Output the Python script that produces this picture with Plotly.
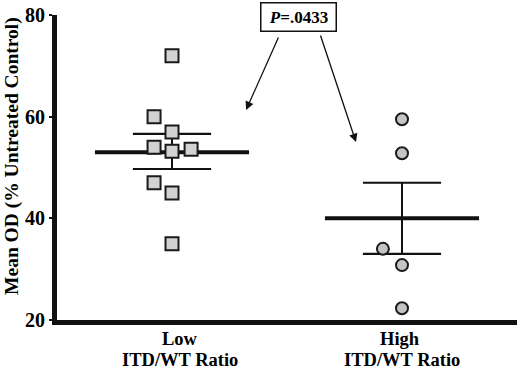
import plotly.graph_objects as go

# ---- data ----
cat_line1 = ["Low", "High"]
cat_line2 = ["ITD/WT Ratio", "ITD/WT Ratio"]
cat_pos = [1, 2]

low_x = [1, 0.922, 1, 0.922, 1, 1.083, 0.922, 1, 1]
low_y = [72, 60, 57, 54, 53.2, 53.6, 47, 45, 35]

high_x = [2, 2, 1.917, 2, 2]
high_y = [59.5, 52.8, 34.0, 30.8, 22.3]

group_mean = [53.0, 40.0]
group_upper = [56.6, 47.0]
group_lower = [49.7, 33.0]

p_label = "<i>P</i>=.0433"
y_title = "Mean OD (% Untreated Control)"
y_ticks = [20, 40, 60, 80]

# ---- style constants ----
MEAN_HALF = 0.335
CAP_HALF = 0.17
SERIF = "Liberation Serif, Times New Roman, serif"
LABEL_XSHIFT = [8, -2]

fig = go.Figure()

for i, c in enumerate(cat_pos):
    fig.add_trace(go.Scatter(x=[c, c], y=[group_lower[i], group_upper[i]], mode="lines",
                             line=dict(color="#111", width=2), hoverinfo="skip", showlegend=False))
    for v in (group_upper[i], group_lower[i]):
        fig.add_trace(go.Scatter(x=[c - CAP_HALF, c + CAP_HALF], y=[v, v], mode="lines",
                                 line=dict(color="#111", width=2.2), hoverinfo="skip", showlegend=False))
    fig.add_trace(go.Scatter(x=[c - MEAN_HALF, c + MEAN_HALF], y=[group_mean[i], group_mean[i]], mode="lines",
                             line=dict(color="#111", width=4), hoverinfo="skip", showlegend=False))

fig.add_trace(go.Scatter(x=low_x, y=low_y, mode="markers", showlegend=False,
                         marker=dict(symbol="square", size=13, color="#d2d2d2",
                                     line=dict(color="#1a1a1a", width=2))))
fig.add_trace(go.Scatter(x=high_x, y=high_y, mode="markers", showlegend=False,
                         marker=dict(symbol="circle", size=12, color="#c4c4c4",
                                     line=dict(color="#1a1a1a", width=2))))

# category labels (two lines each)
for i, c in enumerate(cat_pos):
    fig.add_annotation(x=c, y=0, xref="x", yref="paper", yanchor="top", yshift=-8,
                       xshift=LABEL_XSHIFT[i], text=cat_line1[i], showarrow=False, borderpad=0,
                       font=dict(family=SERIF, size=18.5, color="black", weight="bold"))
    fig.add_annotation(x=c, y=0, xref="x", yref="paper", yanchor="top", yshift=-29,
                       xshift=LABEL_XSHIFT[i] if i == 0 else 0, text=cat_line2[i], showarrow=False,
                       borderpad=0,
                       font=dict(family=SERIF, size=18.5, color="black", weight="bold"))

# y-axis title
fig.add_annotation(x=0, y=0.538, xref="paper", yref="paper", xanchor="center", yanchor="middle",
                   xshift=-45, textangle=-90, text=y_title, showarrow=False,
                   font=dict(family=SERIF, size=19.5, color="black", weight="bold"))

# p-value box
fig.add_annotation(x=1.548, y=79.6, xref="x", yref="y", text=p_label, showarrow=False,
                   font=dict(family=SERIF, size=17, color="black", weight="bold"),
                   bordercolor="#111", borderwidth=1.5, width=72, height=25,
                   bgcolor="white", xanchor="center", yanchor="middle")
fig.add_annotation(x=1.322, y=61.3, xref="x", yref="y", text="", showarrow=True,
                   ax=33, ay=-74, arrowhead=2, arrowsize=1.3, arrowwidth=1.3, arrowcolor="#111")
fig.add_annotation(x=1.80, y=55.0, xref="x", yref="y", text="", showarrow=True,
                   ax=-36, ay=-108, arrowhead=2, arrowsize=1.3, arrowwidth=1.3, arrowcolor="#111")

fig.update_layout(
    width=520, height=375,
    margin=dict(l=57, r=3, t=15, b=55, autoexpand=False),
    paper_bgcolor="white", plot_bgcolor="white",
    font=dict(family=SERIF, color="black"),
)
fig.update_xaxes(range=[0.5, 2.5], tickvals=cat_pos, ticktext=["", ""], automargin=False,
                 showline=True, linewidth=5, linecolor="#111", showgrid=False, zeroline=False,
                 ticks="")
fig.update_yaxes(range=[20, 80], tickvals=y_ticks, automargin=False,
                 showline=True, linewidth=5, linecolor="#111", showgrid=False, zeroline=False,
                 ticks="outside", ticklen=3, tickwidth=2, tickcolor="#111",
                 tickfont=dict(family=SERIF, size=20, color="black", weight="bold"))

fig.write_html("out.html", config={"displayModeBar": False},
               post_script="document.body.style.margin='0';")
